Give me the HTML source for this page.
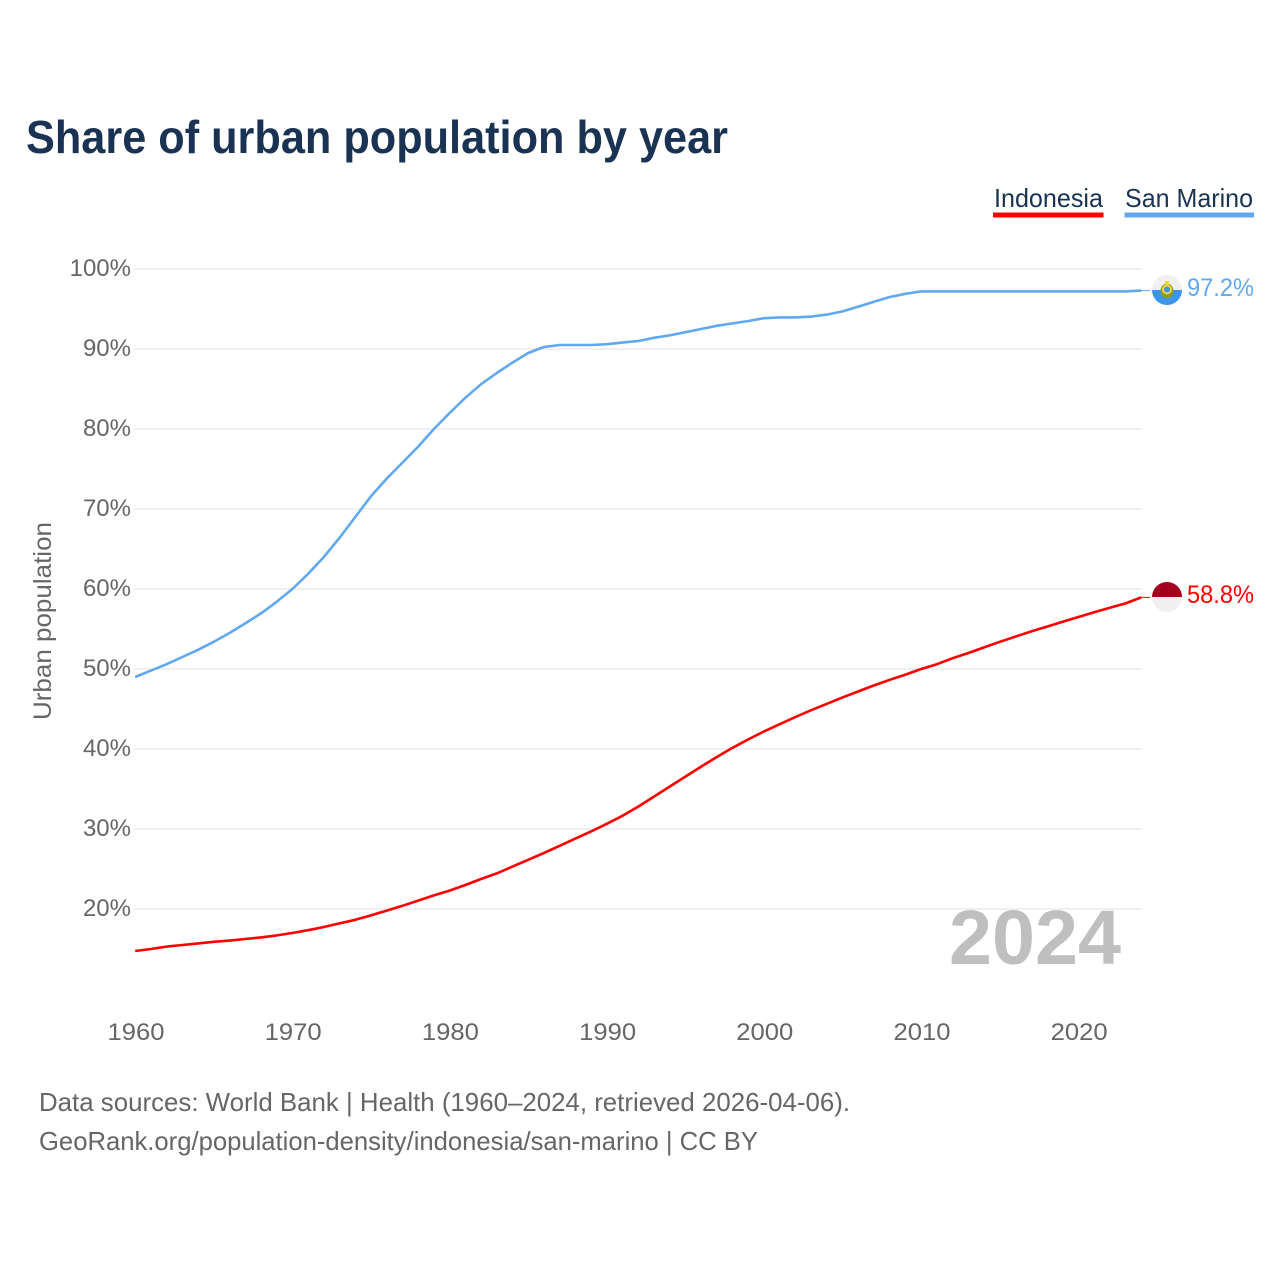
<!DOCTYPE html>
<html lang="en">
<head>
<meta charset="utf-8">
<title>Share of urban population by year</title>
<style>
html,body{margin:0;padding:0;background:#fff;width:1280px;height:1280px;overflow:hidden}
svg{display:block}
text{font-family:"Liberation Sans",sans-serif}
</style>
</head>
<body>
<svg id="chart" xmlns="http://www.w3.org/2000/svg" width="1280" height="1280" viewBox="0 0 1280 1280">
  <defs>
    <clipPath id="flag-clip-sm"><circle cx="1167" cy="290" r="15"/></clipPath>
    <clipPath id="flag-clip-id"><circle cx="1167" cy="597" r="15"/></clipPath>
  </defs>
  <text x="26" y="153" font-size="46" font-weight="700" fill="#1a3353" textLength="702" lengthAdjust="spacingAndGlyphs">Share of urban population by year</text>

  <g>
    <g>
      <text x="994" y="207" font-size="26" fill="#1a3353" textLength="109" lengthAdjust="spacingAndGlyphs">Indonesia</text>
      <rect x="993" y="212.500" width="110.500" height="5" fill="#ff0000"/>
    </g>
    <g>
      <text x="1125" y="207" font-size="26" fill="#1a3353" textLength="128" lengthAdjust="spacingAndGlyphs">San Marino</text>
      <rect x="1124.500" y="212.500" width="129.500" height="5" fill="#62a8f0"/>
    </g>
  </g>

  <g id="grid"></g>
  <g id="yticks"></g>
  <g id="xticks"></g>

  <text transform="translate(51,621) rotate(-90)" text-anchor="middle" font-size="25" fill="#666666" textLength="198" lengthAdjust="spacingAndGlyphs">Urban population</text>

  <text x="949" y="964" font-size="77" font-weight="700" fill="#bfbfbf" textLength="172" lengthAdjust="spacingAndGlyphs">2024</text>

  <g id="series"></g>

  <g clip-path="url(#flag-clip-sm)">
    <rect x="1152" y="275" width="30" height="15" fill="#f0f0f0"/>
    <rect x="1152" y="290" width="30" height="15" fill="#3d94ec"/>
    <ellipse cx="1167" cy="291" rx="6.500" ry="7.500" fill="#7f9f2d"/>
    <circle cx="1167" cy="289.500" r="5" fill="#f7d23a"/>
    <circle cx="1167" cy="289.500" r="3" fill="#3d94ec"/>
    <rect x="1165" y="281" width="4" height="5" fill="#f7d23a"/>
  </g>
  <g clip-path="url(#flag-clip-id)">
    <rect x="1152" y="582" width="30" height="15" fill="#a2001d"/>
    <rect x="1152" y="597" width="30" height="15" fill="#f0f0f0"/>
  </g>

  <text id="value-sm" x="1187" y="296" font-size="25" fill="#62a8f0" textLength="67" lengthAdjust="spacingAndGlyphs"></text>
  <text id="value-id" x="1187" y="603" font-size="25" fill="#ff0000" textLength="67" lengthAdjust="spacingAndGlyphs"></text>

  <text x="39" y="1111" font-size="26" fill="#666666" textLength="811" lengthAdjust="spacingAndGlyphs">Data sources: World Bank | Health (1960–2024, retrieved 2026-04-06).</text>
  <text x="39" y="1150" font-size="26" fill="#666666" textLength="719" lengthAdjust="spacingAndGlyphs">GeoRank.org/population-density/indonesia/san-marino | CC BY</text>
</svg>
<script>
const startYear = 1960;
const yTickValues = [20, 30, 40, 50, 60, 70, 80, 90, 100];
const xTickYears = [1960, 1970, 1980, 1990, 2000, 2010, 2020];
const indonesiaValues = [14.75,15.0,15.3,15.5,15.7,15.9,16.05,16.25,16.45,16.7,17.0,17.35,17.75,18.2,18.65,19.2,19.8,20.4,21.05,21.7,22.3,23.0,23.75,24.45,25.3,26.15,27.0,27.9,28.8,29.7,30.65,31.65,32.8,34.05,35.3,36.55,37.8,39.0,40.15,41.2,42.2,43.1,44.0,44.85,45.65,46.45,47.2,47.95,48.65,49.3,50.0,50.6,51.35,52.0,52.7,53.4,54.05,54.7,55.3,55.9,56.5,57.1,57.65,58.2,58.95];
const sanMarinoValues = [49.0,49.8,50.6,51.5,52.4,53.4,54.5,55.7,56.95,58.4,60.0,61.9,64.0,66.4,69.0,71.6,73.8,75.8,77.8,80.0,82.0,83.9,85.6,87.0,88.3,89.5,90.25,90.5,90.5,90.5,90.6,90.8,91.0,91.4,91.7,92.1,92.5,92.9,93.2,93.5,93.85,93.95,93.95,94.05,94.3,94.7,95.3,95.9,96.5,96.9,97.2,97.2,97.2,97.2,97.2,97.2,97.2,97.2,97.2,97.2,97.2,97.2,97.2,97.2,97.3];
const indonesiaLabel = "58.8%";
const sanMarinoLabel = "97.2%";

const NS = "http://www.w3.org/2000/svg";
const xScale = year => 135.2 + (year - 1960) * 15.72;
const yScale = value => 909 - (value - 20) * 8;

function svgEl(tag, attrs, parent) {
  const el = document.createElementNS(NS, tag);
  for (const k in attrs) el.setAttribute(k, attrs[k]);
  parent.appendChild(el);
  return el;
}

const gridGroup = document.getElementById("grid");
const yGroup = document.getElementById("yticks");
const xGroup = document.getElementById("xticks");
const seriesGroup = document.getElementById("series");

yTickValues.forEach(v => {
  const line = svgEl("line", {x1: 135, x2: 1142, y1: yScale(v), y2: yScale(v), stroke: "#f0f0f0", "stroke-width": 2}, gridGroup);
  
  
  const label = svgEl("text", {x: 131, y: yScale(v) + 7, "text-anchor": "end", "font-size": 24, fill: "#666666"}, yGroup);
  
  
  label.textContent = v + "%";
});

xTickYears.forEach(y => {
  const label = svgEl("text", {x: xScale(y) + 0.8, y: 1040, "text-anchor": "middle", "font-size": 24, fill: "#666666", textLength: 57, lengthAdjust: "spacingAndGlyphs"}, xGroup);
  
  
  label.textContent = y;
});

function linePath(values) {
  return values.map((v, i) => (i ? "L" : "M") + xScale(startYear + i).toFixed(2) + " " + yScale(v).toFixed(2)).join(" ");
}

const sanMarinoLine = svgEl("path", {d: linePath(sanMarinoValues), fill: "none", stroke: "#62a8f0", "stroke-width": 2.6, "stroke-linejoin": "round"}, seriesGroup);



const indonesiaLine = svgEl("path", {d: linePath(indonesiaValues), fill: "none", stroke: "#ff0000", "stroke-width": 2.6, "stroke-linejoin": "round"}, seriesGroup);



const lastYear = startYear + indonesiaValues.length - 1;
const smConnector = svgEl("line", {x1: xScale(lastYear), x2: 1150, y1: yScale(sanMarinoValues[sanMarinoValues.length - 1]), y2: yScale(sanMarinoValues[sanMarinoValues.length - 1]), stroke: "#62a8f0", "stroke-width": 1}, seriesGroup);



const idConnector = svgEl("line", {x1: xScale(lastYear), x2: 1150, y1: yScale(indonesiaValues[indonesiaValues.length - 1]), y2: yScale(indonesiaValues[indonesiaValues.length - 1]), stroke: "#ff0000", "stroke-width": 1}, seriesGroup);



document.getElementById("value-sm").textContent = sanMarinoLabel;
document.getElementById("value-id").textContent = indonesiaLabel;
</script>
</body>
</html>
